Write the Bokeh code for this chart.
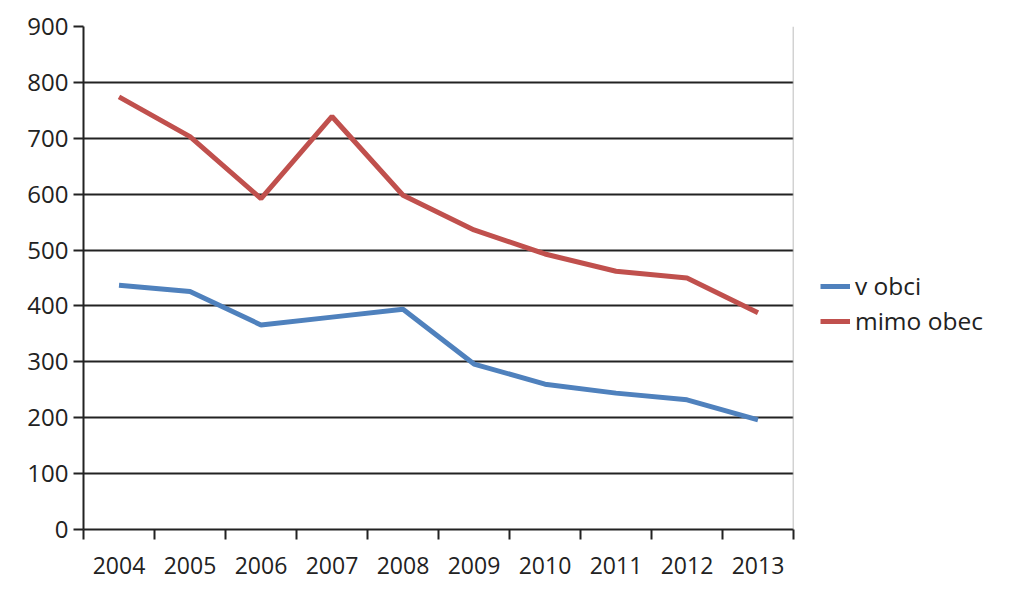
from bokeh.plotting import figure
from bokeh.models import Range1d, FixedTicker, Span, Legend, LegendItem
from bokeh.embed import file_html
from bokeh.resources import INLINE

years = [2004, 2005, 2006, 2007, 2008, 2009, 2010, 2011, 2012, 2013]
v_obci = [437, 426, 366, 380, 394, 296, 260, 244, 232, 196]
mimo_obec = [774, 703, 592, 739, 598, 536, 493, 462, 450, 388]
y_ticks = [0, 100, 200, 300, 400, 500, 600, 700, 800, 900]

FONT = "Open Sans"
TXT = "#222222"

p = figure(frame_width=710, frame_height=503, output_backend="svg", toolbar_location=None,
           x_range=Range1d(2003.5, 2013.5), y_range=Range1d(0, 900),
           min_border_left=83, min_border_top=26, min_border_bottom=57,
           min_border_right=190)
p.outline_line_color = None
p.background_fill_color = "white"
p.border_fill_color = "white"

# axes
p.xaxis.ticker = FixedTicker(ticks=years, minor_ticks=[y - 0.5 for y in years] + [2013.5])
p.xaxis.major_tick_line_color = None
p.xaxis.minor_tick_in = 0
p.xaxis.minor_tick_out = 10
p.xaxis.minor_tick_line_color = "#222222"
p.xaxis.minor_tick_line_width = 2
p.xaxis.axis_line_color = "#222222"
p.xaxis.axis_line_width = 2
p.xaxis.major_label_standoff = 17
p.xaxis.major_label_text_font = FONT
p.xaxis.major_label_text_font_size = "23px"
p.xaxis.major_label_text_color = TXT

p.yaxis.ticker = FixedTicker(ticks=y_ticks)
p.yaxis.minor_tick_line_color = None
p.yaxis.major_tick_in = 0
p.yaxis.major_tick_out = 10
p.yaxis.major_tick_line_color = "#222222"
p.yaxis.major_tick_line_width = 2
p.yaxis.axis_line_color = "#222222"
p.yaxis.axis_line_width = 2
p.yaxis.major_label_standoff = 5
p.yaxis.major_label_text_font = FONT
p.yaxis.major_label_text_font_size = "24px"
p.yaxis.major_label_text_color = TXT

p.xgrid.grid_line_color = None
p.ygrid.grid_line_color = "#222222"
p.ygrid.grid_line_width = 2
p.ygrid.ticker = FixedTicker(ticks=y_ticks)

p.add_layout(Span(location=2013.5, dimension="height", line_color="#a6a6a6", line_width=1.5))

r1 = p.line(years, v_obci, line_color="#4F81BD", line_width=5)
r2 = p.line(years, mimo_obec, line_color="#C0504D", line_width=5)

legend = Legend(items=[LegendItem(label="v obci", renderers=[r1]),
                       LegendItem(label="mimo obec", renderers=[r2])],
                location=(27, 192), padding=0, margin=0, spacing=2,
                glyph_width=30, glyph_height=24, label_height=24,
                label_standoff=5,
                label_text_font=FONT, label_text_font_size="24.5px",
                label_text_color=TXT,
                border_line_color=None, background_fill_alpha=0)
p.add_layout(legend, "right")

open("out.html", "w").write(file_html(p, INLINE))
